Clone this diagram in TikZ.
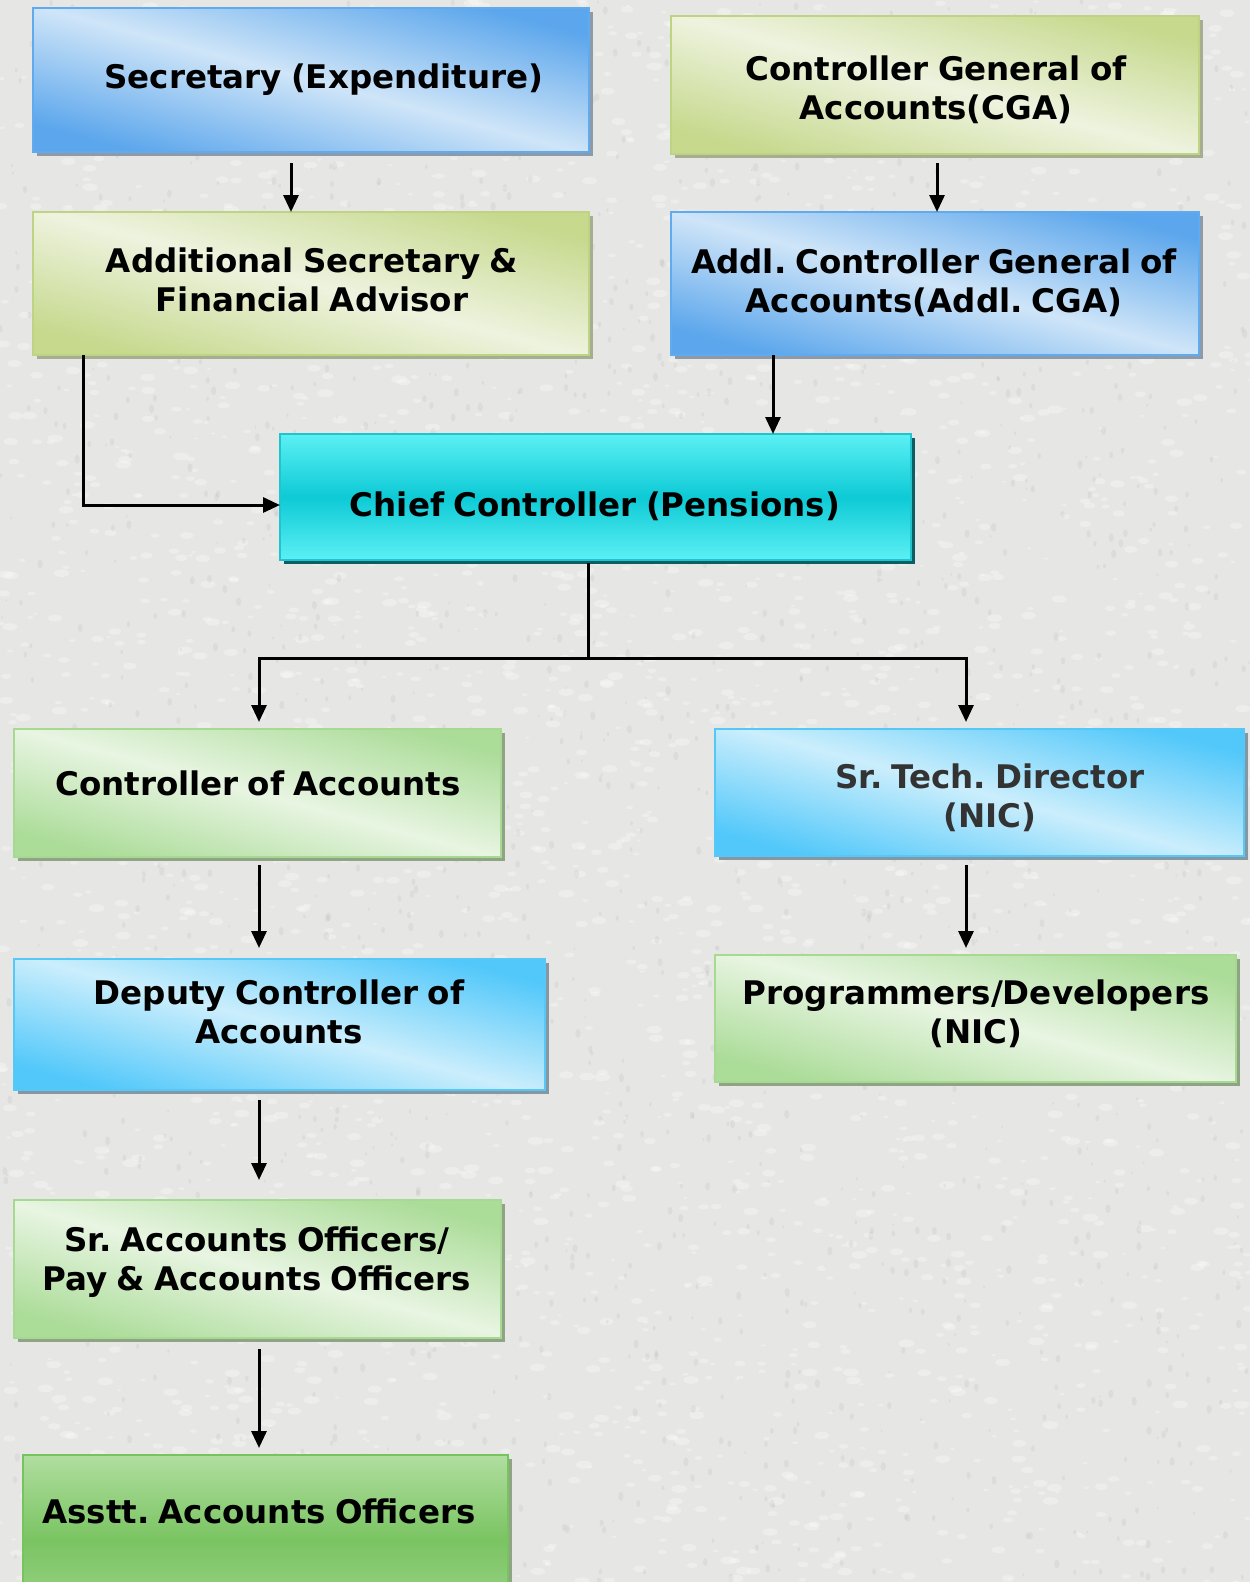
\documentclass[tikz,border=0pt]{standalone}
\usepackage{fontspec}
\setmainfont{DejaVu Sans}
\usetikzlibrary{arrows.meta,shadows,calc}
\newcommand\lblfont{\bfseries\fontsize{32.5}{39.5}\selectfont\frenchspacing\spaceskip=0.28em plus 0.1em\relax}
\definecolor{bg}{HTML}{E6E6E4}
\definecolor{bluedk}{HTML}{5BA6EC}\definecolor{bluelt}{HTML}{CFE5F8}\definecolor{bluebd}{HTML}{62AAEE}\definecolor{bluesh}{HTML}{8D9AAA}
\definecolor{olivedk}{HTML}{C6D98D}\definecolor{olivelt}{HTML}{EEF3DF}\definecolor{olivebd}{HTML}{BFD384}\definecolor{olivesh}{HTML}{A5AE90}
\definecolor{cyanlt}{HTML}{5CF0F5}\definecolor{cyandk}{HTML}{0DCAD5}\definecolor{cyanbd}{HTML}{1FC4CF}\definecolor{cyansh}{HTML}{0B5E64}
\definecolor{skydk}{HTML}{52C8FA}\definecolor{skylt}{HTML}{CBEEFC}\definecolor{skybd}{HTML}{55C8F8}\definecolor{skysh}{HTML}{8497A3}
\definecolor{grndk}{HTML}{ABDC98}\definecolor{grnlt}{HTML}{E8F5E2}\definecolor{grnbd}{HTML}{A7D993}\definecolor{grnsh}{HTML}{8FA385}
\definecolor{dgtop}{HTML}{B0DE9F}\definecolor{dgmid}{HTML}{7AC462}\definecolor{dgbd}{HTML}{77C45F}
\begin{document}
\begin{tikzpicture}[x=1pt,y=-1pt,
  box/.style={draw, line width=2pt, rectangle, inner sep=0pt, outer sep=0pt, anchor=north west},
  sz/.style 2 args={minimum width=#1pt, minimum height=#2pt},
  diag/.style 2 args={top color=#1, bottom color=#1, middle color=#2, shading angle=-15},
  shd/.style={drop shadow={shadow xshift=4pt, shadow yshift=-4pt, fill=#1, opacity=1}},
  bluebox/.style={box, draw=bluebd, diag={bluedk}{bluelt}, shd=bluesh},
  olivebox/.style={box, draw=olivebd, diag={olivedk}{olivelt}, shd=olivesh},
  skybox/.style={box, draw=skybd, diag={skydk}{skylt}, shd=skysh},
  grnbox/.style={box, draw=grnbd, diag={grndk}{grnlt}, shd=grnsh},
  lbl/.style={font=\lblfont, align=center, inner sep=0pt},
  arr/.style={line width=3pt, -{Triangle[length=17pt,width=15pt]}},
  ln/.style={line width=3pt}
]
\useasboundingbox (0,0) rectangle (1250,1582);
\clip (0,0) rectangle (1250,1582);
\fill[bg] (0,0) rectangle (1250,1582);
% paper texture
\pgfmathsetseed{7}
\foreach \i in {1,...,3000}{
  \pgfmathsetmacro{\px}{rnd*1250}
  \pgfmathsetmacro{\py}{rnd*1582}
  \pgfmathsetmacro{\pr}{2+rnd*6}
  \fill[white, opacity=0.3] (\px,\py) ellipse ({\pr pt} and {0.5*\pr pt});
}
\foreach \i in {1,...,1800}{
  \pgfmathsetmacro{\px}{rnd*1250}
  \pgfmathsetmacro{\py}{rnd*1582}
  \pgfmathsetmacro{\pr}{1.5+rnd*3}
  \fill[black!40, opacity=0.12] (\px,\py) ellipse ({0.6*\pr pt} and {\pr pt});
}

% boxes
\node[bluebox, sz={556}{144}] (sec) at (33,8) {};
\node[lbl] (secT) at (324,80) {Secretary (Expenditure)};

\node[olivebox, sz={528}{138}] (cga) at (671,16) {};
\node[lbl] (cgaT) at (936,90) {Controller General of\\Accounts(CGA)};

\node[olivebox, sz={556}{143}] (asfa) at (33,212) {};
\node[lbl] (asfaT) at (312,280) {Additional Secretary \&\\Financial Advisor};

\node[bluebox, sz={528}{143}] (acga) at (671,212) {};
\node[lbl] (acgaT) at (934,283) {Addl. Controller General of\\Accounts(Addl. CGA)};

\node[box, sz={631}{126}, draw=cyanbd, top color=cyanlt, bottom color=cyanlt, middle color=cyandk, shd=cyansh] (chief) at (280,434) {};
\node[lbl] (chiefT) at (595,506) {Chief Controller (Pensions)};

\node[grnbox, sz={487}{128}] (coa) at (14,729) {};
\node[lbl] (coaT) at (258,783) {Controller of Accounts};

\node[skybox, sz={529}{127}] (std) at (715,729) {};
\node[lbl, text=black!80] (stdT) at (990,798) {Sr. Tech. Director\\(NIC)};

\node[skybox, sz={531}{131}] (dcoa) at (14,959) {};
\node[lbl] (dcoaT) at (279,1012) {Deputy Controller of\\Accounts};

\node[grnbox, sz={521}{127}] (prog) at (715,955) {};
\node[lbl] (progT) at (976,1014) {Programmers/Developers\\(NIC)};

\node[grnbox, sz={487}{138}] (srao) at (14,1200) {};
\node[lbl] (sraoT) at (257,1262) {Sr. Accounts Officers/\\Pay \& Accounts Officers};

\node[box, sz={485}{170}, draw=dgbd, top color=dgtop, bottom color=dgtop!70!dgmid, middle color=dgmid, shd=grnsh] (aao) at (23,1455) {};
\node[lbl] (aaoT) at (259,1511) {Asstt. Accounts Officers};

% connectors
\draw[arr, shorten <=11pt] ([xshift=258pt]sec.south west) -- ([xshift=258pt]asfa.north west);
\draw[arr, shorten <=9pt] ([xshift=266pt]cga.south west) -- ([xshift=266pt]acga.north west);
\draw[arr] ([xshift=50pt]asfa.south west) |- ([yshift=-8pt]chief.west);
\draw[arr] ([xshift=102pt]acga.south west) -- ([xshift=102pt]acga.south west |- chief.north);

\coordinate (jl) at (259,658);
\coordinate (jr) at (966,658);
\draw[ln, shorten <=3pt] ([xshift=308pt]chief.south west) -- ([xshift=308pt]chief.south west |- jl);
\draw[ln, line cap=rect] (jl) -- (jr);
\draw[arr, shorten >=7pt] (jl) -- (jl |- coa.north);
\draw[arr, shorten >=7pt] (jr) -- (jr |- std.north);

\draw[arr, shorten <=8pt, shorten >=11pt] ([xshift=245pt]coa.south west) -- ([xshift=245pt]coa.south west |- dcoa.north);
\draw[arr, shorten <=9pt, shorten >=7pt] ([xshift=251pt]std.south west) -- ([xshift=251pt]std.south west |- prog.north);
\draw[arr, shorten <=10pt, shorten >=20pt] ([xshift=245pt]dcoa.south west) -- ([xshift=245pt]dcoa.south west |- srao.north);
\draw[arr, shorten <=11pt, shorten >=7pt] ([xshift=245pt]srao.south west) -- ([xshift=245pt]srao.south west |- aao.north);
\end{tikzpicture}
\end{document}
